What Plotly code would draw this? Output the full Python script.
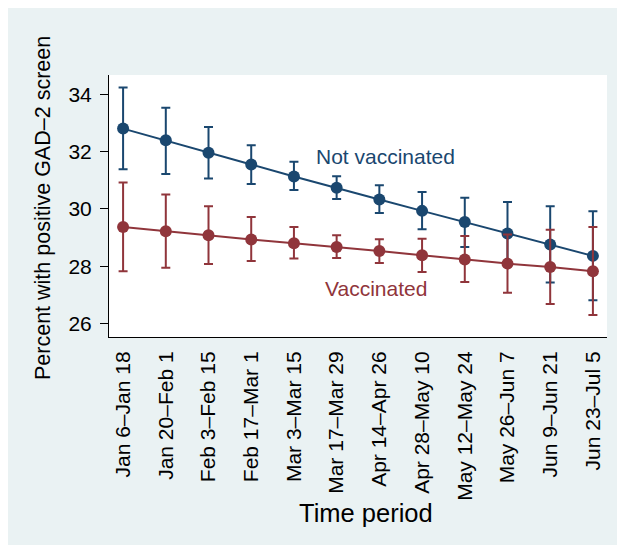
import plotly.graph_objects as go

periods = ["Jan 6–Jan 18", "Jan 20–Feb 1", "Feb 3–Feb 15", "Feb 17–Mar 1",
           "Mar 3–Mar 15", "Mar 17–Mar 29", "Apr 14–Apr 26", "Apr 28–May 10",
           "May 12–May 24", "May 26–Jun 7", "Jun 9–Jun 21", "Jun 23–Jul 5"]

notvax_mean = [32.80, 32.39, 31.96, 31.55, 31.13, 30.74, 30.33, 29.93, 29.54, 29.14, 28.76, 28.36]
notvax_upper = [34.23, 33.53, 32.86, 32.22, 31.64, 31.14, 30.82, 30.59, 30.39, 30.24, 30.09, 29.92]
notvax_lower = [31.38, 31.22, 31.06, 30.87, 30.66, 30.34, 29.86, 29.29, 28.67, 28.04, 27.43, 26.81]

vax_mean = [29.37, 29.22, 29.08, 28.93, 28.80, 28.67, 28.53, 28.38, 28.23, 28.09, 27.97, 27.82]
vax_upper = [30.92, 30.50, 30.09, 29.72, 29.37, 29.08, 28.94, 28.96, 29.05, 29.11, 29.27, 29.37]
vax_lower = [27.82, 27.95, 28.08, 28.18, 28.27, 28.29, 28.11, 27.80, 27.45, 27.07, 26.68, 26.30]

y_ticks = [26, 28, 30, 32, 34]

BLUE = "#1a476f"
RED = "#90353b"
BG = "#eaf2f3"
FONT = "Liberation Sans, Arial, Helvetica, sans-serif"

xpos = list(range(1, len(periods) + 1))

fig = go.Figure()

def add_series(mean, upper, lower, color):
    fig.add_trace(go.Scatter(
        x=xpos, y=mean, mode="lines+markers",
        line=dict(color=color, width=2),
        marker=dict(color=color, size=12),
        error_y=dict(type="data", symmetric=False,
                     array=[u - m for u, m in zip(upper, mean)],
                     arrayminus=[m - l for m, l in zip(mean, lower)],
                     color=color, thickness=2, width=4.5),
        showlegend=False, hoverinfo="skip"))

add_series(notvax_mean, notvax_upper, notvax_lower, BLUE)
add_series(vax_mean, vax_upper, vax_lower, RED)

OFF = 8  # page body margin
W, H = 617, 537
L, R, T, B = 101, 18, 67, 208
pw = W - L - R
ph = H - T - B

def px_to_paper_x(sx):
    return (sx - OFF - L) / pw

def px_to_paper_y(sy):
    return (H - B - (sy - OFF)) / ph

annotations = [
    dict(text="Not vaccinated", x=7.15, y=31.81, xref="x", yref="y",
         showarrow=False, font=dict(color=BLUE, size=21, family=FONT),
         xanchor="center", yanchor="middle"),
    dict(text="Vaccinated", x=6.93, y=27.21, xref="x", yref="y",
         showarrow=False, font=dict(color=RED, size=21, family=FONT),
         xanchor="center", yanchor="middle"),
    dict(text="Percent with positive GAD–2 screen", xref="paper", yref="paper",
         x=px_to_paper_x(43), y=px_to_paper_y(208), textangle=-90,
         showarrow=False, font=dict(color="black", size=21.5, family=FONT),
         xanchor="center", yanchor="middle"),
    dict(text="Time period", xref="paper", yref="paper",
         x=px_to_paper_x(366), y=px_to_paper_y(513),
         showarrow=False, font=dict(color="black", size=25.5, family=FONT),
         xanchor="center", yanchor="middle"),
]

fig.update_layout(
    template="none",
    width=W, height=H,
    margin=dict(l=L, r=R, t=T, b=B, pad=0),
    paper_bgcolor=BG,
    plot_bgcolor="white",
    font=dict(family=FONT, size=21, color="black"),
    annotations=annotations,
    xaxis=dict(
        range=[0.67, 12.33], tickmode="array", tickvals=xpos, ticktext=periods,
        tickangle=-90, ticks="", showgrid=False, zeroline=False,
        showline=True, linecolor="black", linewidth=1, automargin=False,
        tickfont=dict(size=21, family=FONT, color="black"),
        ticklabelstandoff=5,
    ),
    yaxis=dict(
        range=[25.53, 34.67], tickmode="array", tickvals=y_ticks,
        ticks="outside", ticklen=8, tickcolor="black", tickwidth=1,
        showgrid=False, zeroline=False, showline=True, linecolor="black",
        linewidth=1, automargin=False, ticklabelstandoff=4,
        tickfont=dict(size=21, family=FONT, color="black"),
    ),
)

fig.write_html("out.html")
